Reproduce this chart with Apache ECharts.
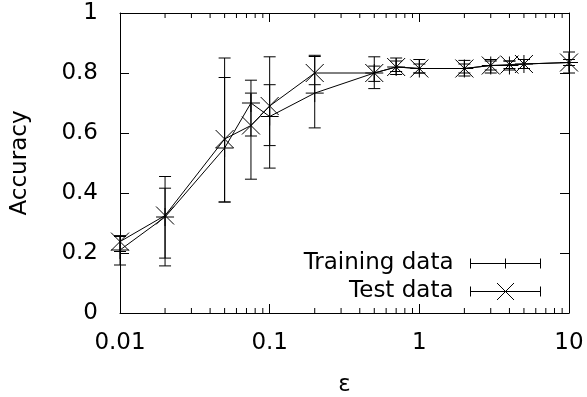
<!DOCTYPE html>
<html>
<head>
<meta charset="utf-8">
<script src="https://cdn.jsdelivr.net/npm/echarts@6/dist/echarts.min.js"></script>
<style>
  html, body { margin: 0; padding: 0; background: #fff; }
  #chart { width: 587px; height: 397px; }
</style>
</head>
<body>
<div id="chart"></div>
<script>
// epsilon values (x, log scale)
const eps = [0.01, 0.02, 0.05, 0.075, 0.1, 0.2, 0.5, 0.7, 1, 2, 3, 4, 5, 10];

// training data: mean, lower, upper
const trainMean = [0.21, 0.32, 0.55, 0.70, 0.655, 0.733, 0.80, 0.82, 0.815, 0.815, 0.825, 0.825, 0.83, 0.835];
const trainLow  = [0.16, 0.157, 0.37, 0.59, 0.558, 0.617, 0.748, 0.795, 0.80, 0.79, 0.80, 0.81, 0.815, 0.80];
const trainHigh = [0.255, 0.455, 0.785, 0.776, 0.761, 0.855, 0.854, 0.85, 0.845, 0.842, 0.845, 0.84, 0.845, 0.87];

// test data: mean, lower, upper
const testMean = [0.238, 0.325, 0.58, 0.625, 0.69, 0.80, 0.80, 0.82, 0.815, 0.815, 0.825, 0.828, 0.83, 0.835];
const testLow  = [0.205, 0.183, 0.37, 0.446, 0.483, 0.761, 0.772, 0.805, 0.80, 0.80, 0.81, 0.815, 0.815, 0.825];
const testHigh = [0.258, 0.416, 0.85, 0.733, 0.854, 0.859, 0.823, 0.84, 0.83, 0.83, 0.84, 0.84, 0.845, 0.845];

// axis ticks / labels
const yTicks = [0, 0.2, 0.4, 0.6, 0.8, 1];
const xMinorTicks = [0.02, 0.03, 0.04, 0.05, 0.06, 0.07, 0.08, 0.09,
                     0.2, 0.3, 0.4, 0.5, 0.6, 0.7, 0.8, 0.9,
                     2, 3, 4, 5, 6, 7, 8, 9];

const FONT = 'DejaVu Sans';
const FS = 23;
const black = '#000';

const rows = (m, lo, hi) => eps.map((x, i) => [x, m[i], lo[i], hi[i]]);

// error bar + marker drawing
function errorBarRender(marker) {
  return function (params, api) {
    const x = api.value(0);
    const c = api.coord([x, api.value(1)]);
    const lo = api.coord([x, api.value(2)]);
    const hi = api.coord([x, api.value(3)]);
    const cap = 6, m = 9;
    const st = { stroke: black, lineWidth: 1 };
    const kids = [
      { type: 'line', shape: { x1: lo[0], y1: lo[1], x2: hi[0], y2: hi[1] }, style: st },
      { type: 'line', shape: { x1: lo[0] - cap, y1: lo[1], x2: lo[0] + cap, y2: lo[1] }, style: st },
      { type: 'line', shape: { x1: hi[0] - cap, y1: hi[1], x2: hi[0] + cap, y2: hi[1] }, style: st }
    ];
    if (marker === 'plus') {
      kids.push({ type: 'line', shape: { x1: c[0] - m, y1: c[1], x2: c[0] + m, y2: c[1] }, style: st });
      kids.push({ type: 'line', shape: { x1: c[0], y1: c[1] - m, x2: c[0], y2: c[1] + m }, style: st });
    } else {
      kids.push({ type: 'line', shape: { x1: c[0] - m, y1: c[1] - m, x2: c[0] + m, y2: c[1] + m }, style: st });
      kids.push({ type: 'line', shape: { x1: c[0] - m, y1: c[1] + m, x2: c[0] + m, y2: c[1] - m }, style: st });
    }
    return { type: 'group', children: kids };
  };
}

// minor ticks of the log axis, bottom and top
function minorTickRender(params, api) {
  const v = api.value(0);
  const b = api.coord([v, 0]);
  const t = api.coord([v, 1]);
  const st = { stroke: black, lineWidth: 1 };
  return {
    type: 'group',
    children: [
      { type: 'line', shape: { x1: b[0], y1: b[1], x2: b[0], y2: b[1] - 5 }, style: st },
      { type: 'line', shape: { x1: t[0], y1: t[1], x2: t[0], y2: t[1] + 5 }, style: st }
    ]
  };
}

const trainIcon = 'path://M0 0M70 17M0 8.5H70M0 3.5V13.5M70 3.5V13.5M35 3.5V13.5';
const testIcon = 'path://M0 0M70 17M0 8.5H70M0 3.5V13.5M70 3.5V13.5M26.5 0L43.5 17M43.5 0L26.5 17';

const chart = echarts.init(document.getElementById('chart'));

const xAxisBase = {
  type: 'log',
  logBase: 10,
  min: 0.01,
  max: 10,
  axisLine: { show: true, onZero: false, lineStyle: { color: black, width: 1 } },
  axisTick: { show: true, inside: true, length: 9, lineStyle: { color: black } },
  splitLine: { show: false },
  minorTick: { show: false }
};
const yAxisBase = {
  type: 'value',
  min: yTicks[0],
  max: yTicks[yTicks.length - 1],
  interval: 0.2,
  axisLine: { show: true, onZero: false, lineStyle: { color: black, width: 1 } },
  axisTick: { show: true, inside: true, length: 9, lineStyle: { color: black } },
  splitLine: { show: false }
};

chart.setOption({
  animation: false,
  textStyle: { fontFamily: FONT },
  grid: { left: 120, right: 18, top: 13, bottom: 84, outerBoundsMode: 'none', containLabel: false },
  xAxis: [
    Object.assign({}, xAxisBase, {
      position: 'bottom',
      name: 'ε',
      nameLocation: 'middle',
      nameGap: 61,
      nameTextStyle: { fontFamily: FONT, fontSize: FS, color: black },
      axisLabel: {
        color: black, fontFamily: FONT, fontSize: FS, margin: 19,
        formatter: v => String(+Number(v).toPrecision(3))
      }
    }),
    Object.assign({}, xAxisBase, { position: 'top', axisLabel: { show: false } })
  ],
  yAxis: [
    Object.assign({}, yAxisBase, {
      position: 'left',
      name: 'Accuracy',
      nameLocation: 'middle',
      nameGap: 88,
      nameTextStyle: { fontFamily: FONT, fontSize: FS, color: black },
      axisLabel: { color: black, fontFamily: FONT, fontSize: FS, margin: 22 }
    }),
    Object.assign({}, yAxisBase, { position: 'right', axisLabel: { show: false } })
  ],
  legend: {
    orient: 'vertical',
    right: 39,
    top: 247,
    align: 'right',
    itemWidth: 70,
    itemHeight: 17,
    itemGap: 5,
    selectedMode: false,
    textStyle: { fontFamily: FONT, fontSize: FS, color: black, padding: [0, 12, 0, 0] },
    data: [
      { name: 'Training data', icon: trainIcon, itemStyle: { color: 'none', borderColor: black, borderWidth: 1 } },
      { name: 'Test data', icon: testIcon, itemStyle: { color: 'none', borderColor: black, borderWidth: 1 } }
    ]
  },
  series: [
    {
      name: 'Training data',
      type: 'line',
      data: eps.map((x, i) => [x, trainMean[i]]),
      symbol: 'none',
      lineStyle: { color: black, width: 1 },
      itemStyle: { color: black }
    },
    {
      name: 'Test data',
      type: 'line',
      data: eps.map((x, i) => [x, testMean[i]]),
      symbol: 'none',
      lineStyle: { color: black, width: 1 },
      itemStyle: { color: black }
    },
    {
      name: 'Training data',
      type: 'custom',
      renderItem: errorBarRender('plus'),
      data: rows(trainMean, trainLow, trainHigh),
      encode: { x: 0, y: 1 },
      clip: false,
      z: 3
    },
    {
      name: 'Test data',
      type: 'custom',
      renderItem: errorBarRender('cross'),
      data: rows(testMean, testLow, testHigh),
      encode: { x: 0, y: 1 },
      clip: false,
      z: 3
    },
    {
      name: 'minor ticks',
      type: 'custom',
      renderItem: minorTickRender,
      data: xMinorTicks.map(v => [v]),
      encode: { x: 0 },
      silent: true,
      z: 4
    }
  ]
});
</script>
</body>
</html>
